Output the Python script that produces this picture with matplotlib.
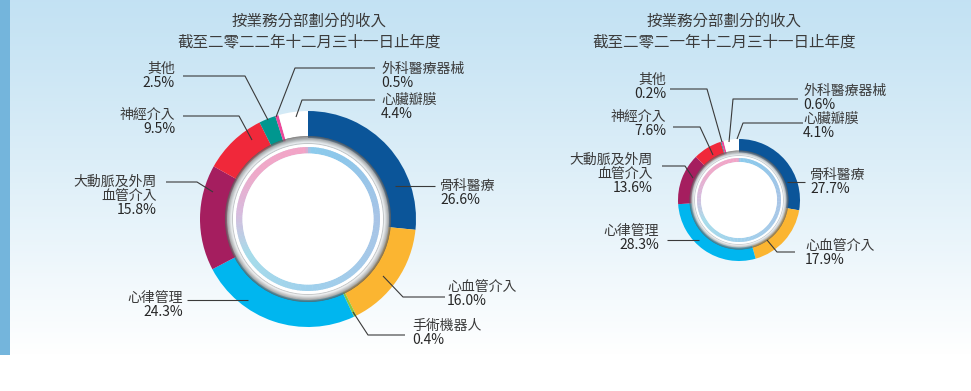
import numpy as np
import matplotlib
matplotlib.use("Agg")
import matplotlib.pyplot as plt
from matplotlib.patches import Wedge, Rectangle

plt.rcParams['font.family'] = ['Noto Sans CJK TC', 'DejaVu Sans']

W, H = 971, 391

# --- data -------------------------------------------------------------
title_line1 = "按業務分部劃分的收入"
title_2022 = "截至二零二二年十二月三十一日止年度"
title_2021 = "截至二零二一年十二月三十一日止年度"

segments_2022 = ["骨科醫療", "心血管介入", "手術機器人", "心律管理", "大動脈及外周\n血管介入",
                 "神經介入", "其他", "外科醫療器械", "心臟瓣膜"]
values_2022 = [26.6, 16.0, 0.4, 24.3, 15.8, 9.5, 2.5, 0.5, 4.4]

segments_2021 = ["骨科醫療", "心血管介入", "心律管理", "大動脈及外周\n血管介入",
                 "神經介入", "其他", "外科醫療器械", "心臟瓣膜"]
values_2021 = [27.7, 17.9, 28.3, 13.6, 7.6, 0.2, 0.6, 4.1]

# --- styles -----------------------------------------------------------
seg_colors = {
    "骨科醫療": "#0b5599",
    "心血管介入": "#fbb531",
    "手術機器人": "#8cc63f",
    "心律管理": "#00b6ef",
    "大動脈及外周\n血管介入": "#a51e5f",
    "神經介入": "#f0283a",
    "其他": "#00978f",
    "外科醫療器械": "#ec4899",
    "心臟瓣膜": "#ffffff",
}
text_col = "#3a3a3a"
pct_col = "#262626"

# label layout: text anchor x, first line y, alignment, leader line points (pixels)
layout_2022 = {
    "骨科醫療": (440, 186, "left", [(435, 186), (395, 186)]),
    "心血管介入": (447, 287, "left", [(445, 297), (403, 297), (383, 276)]),
    "手術機器人": (412, 326, "left", [(405, 335), (368, 335), (353, 312)]),
    "心律管理": (183, 298, "right", [(187, 300), (248, 300)]),
    "大動脈及外周\n血管介入": (157, 182, "right", [(166, 182), (197, 182), (213, 192)]),
    "神經介入": (175, 115, "right", [(183, 116), (239, 116), (252, 140)]),
    "其他": (175, 69, "right", [(183, 76), (245, 76), (268, 120)]),
    "外科醫療器械": (381, 69, "left", [(375, 68), (295, 68), (276, 117)]),
    "心臟瓣膜": (381, 100, "left", [(375, 100), (302, 100), (296, 117)]),
}
layout_2021 = {
    "骨科醫療": (810, 175, "left", [(805, 182), (787, 182)]),
    "心血管介入": (805, 246, "left", [(795, 252), (777, 252), (767, 240)]),
    "心律管理": (659, 231, "right", [(667, 240), (699, 240)]),
    "大動脈及外周\n血管介入": (653, 160, "right", [(662, 166), (685, 166), (693, 178)]),
    "神經介入": (666, 117, "right", [(673, 127), (700, 127), (713, 155)]),
    "其他": (666, 80, "right", [(670, 89), (707, 89), (722, 142)]),
    "外科醫療器械": (803, 91, "left", [(798, 99), (733, 99), (729, 142)]),
    "心臟瓣膜": (803, 119, "left", [(803, 123), (743, 123), (737, 139)]),
}

fig = plt.figure(figsize=(W / 100, H / 100), dpi=100)
ax = fig.add_axes([0, 0, 1, 1])

# background gradient + left strip
grad_h = 355
t = np.linspace(0, 1, 300)[:, None]
top = np.array([0.765, 0.886, 0.953])
mix = np.clip(t ** 1.1, 0, 1)
bg = top[None, None, :] * (1 - mix[..., None]) + mix[..., None]
bg = np.repeat(bg, 2, axis=1)
ax.imshow(bg, extent=[0, W, grad_h, 0], aspect='auto', zorder=0)
ax.add_patch(Rectangle((0, 0), 10, grad_h, color="#74b5dc", lw=0, zorder=1))


def pastel_color(screen_deg):
    # pink on upper left, lilac on left, cyan at bottom, blue on right
    stops = [(-90, "#9fd0ec"), (0, "#a8c4e6"), (60, "#8dc6ea"), (88, "#8ccbec"),
             (92, "#f3a3c6"), (140, "#efa9c9"), (175, "#d8bbdd"), (210, "#a6dcea"),
             (270, "#9fd0ec")]
    a = (screen_deg + 90) % 360 - 90
    for (a0, c0), (a1, c1) in zip(stops[:-1], stops[1:]):
        if a0 <= a <= a1:
            f = (a - a0) / (a1 - a0)
            c0 = np.array(matplotlib.colors.to_rgb(c0))
            c1 = np.array(matplotlib.colors.to_rgb(c1))
            return c0 * (1 - f) + c1 * f
    return matplotlib.colors.to_rgb(stops[-1][1])


def donut(cx, cy, r_out, r_gray, r_gray_in, r_pas, r_pas_in, names, vals, layout):
    ax.pie(vals, radius=r_out, center=(cx, cy), startangle=-90, counterclock=True,
           colors=[seg_colors[n] for n in names], frame=True,
           wedgeprops=dict(width=r_out - r_gray + 2, linewidth=0))
    # metallic grey tube
    n = 14
    radii = np.linspace(r_gray, r_gray_in, n + 1)
    greys = np.concatenate([np.linspace(0.36, 0.94, n - 2), [0.82, 0.7]])
    for i in range(n):
        ax.add_patch(Wedge((cx, cy), radii[i], 0, 360, width=radii[i] - radii[i + 1],
                           color=(greys[i],) * 3, lw=0, zorder=3))
    ax.add_patch(Wedge((cx, cy), r_gray_in, 0, 360, width=r_gray_in - r_pas,
                       color="white", lw=0, zorder=3))
    # pastel textured ring
    steps = 180
    for k in range(steps):
        a0 = k * 360 / steps
        col = pastel_color(-(a0 + 1))
        ax.add_patch(Wedge((cx, cy), r_pas, a0, a0 + 360 / steps + 0.4,
                           width=r_pas - r_pas_in, color=col, lw=0, zorder=3))
    ax.add_patch(Wedge((cx, cy), r_pas_in, 0, 360, color="white", lw=0, zorder=3))

    for name, v in zip(names, vals):
        tx, ty, ha, pts = layout[name]
        lines = name.split("\n")
        for i, s in enumerate(lines):
            ax.text(tx, ty + i * 14, s, ha=ha, va="center", fontsize=10,
                    color=text_col, zorder=6)
        ax.text(tx, ty + len(lines) * 14, f"{v:.1f}%", ha=ha, va="center",
                fontsize=10, color=pct_col, zorder=6)
        xs, ys = zip(*pts)
        ax.plot(xs, ys, color="#3a3a3a", lw=0.8, zorder=5, solid_capstyle="butt")


donut(308, 219, 108, 83, 75, 72, 65.5, segments_2022, values_2022, layout_2022)
donut(739, 200, 61, 49.5, 44, 42, 38, segments_2021, values_2021, layout_2021)

for cx, sub in [(309, title_2022), (724, title_2021)]:
    ax.text(cx, 21, title_line1, ha="center", va="center", fontsize=11.2, color="#3c3c3c")
    ax.text(cx, 42, sub, ha="center", va="center", fontsize=11.2, color="#3c3c3c")

ax.set_xlim(0, W)
ax.set_ylim(H, 0)
ax.set_aspect("auto")
ax.axis("off")
fig.savefig("out.png", dpi=100)
